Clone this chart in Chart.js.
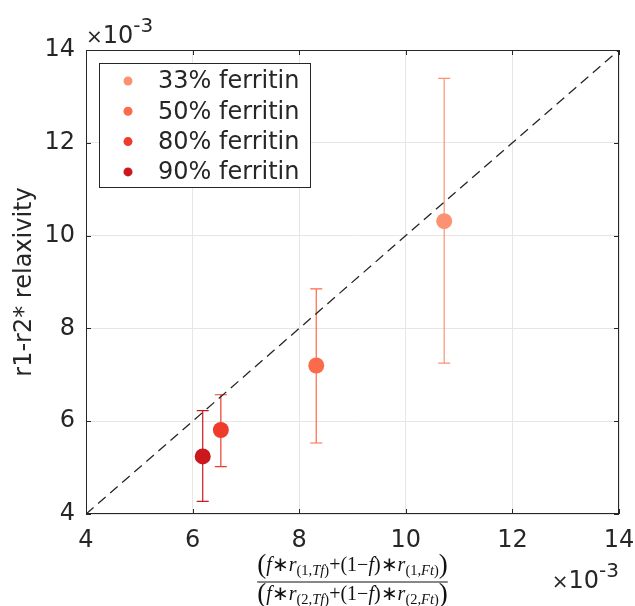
<!DOCTYPE html>
<html>
<head>
<meta charset="utf-8">
<script src="https://cdn.jsdelivr.net/npm/chart.js@4.4.1/dist/chart.umd.min.js"></script>
<style>
  html, body { margin: 0; padding: 0; background: #fff; }
  #wrap { width: 635px; height: 606px; }
</style>
</head>
<body>
<div id="wrap"><canvas id="relax" width="635" height="606"></canvas></div>
<script>
// predicted ratio (x) vs measured r1-r2* relaxivity (y), both in units of 1e-3
const labels = ["33% ferritin", "50% ferritin", "80% ferritin", "90% ferritin"];
const predicted = [10.72, 8.32, 6.53, 6.19];
const measured = [10.31, 7.20, 5.81, 5.24];
const errLow = [7.25, 5.53, 5.02, 4.27];
const errHigh = [13.39, 8.85, 6.57, 6.23];
const colors = ["#fc9272", "#fb6a4a", "#ef3b2c", "#cb181d"];
const axisTicks = [4, 6, 8, 10, 12, 14];
const exponent = "-3";

const ink = "#262626";
const FONT = "DejaVu Sans";
Chart.defaults.font.family = FONT;
Chart.defaults.color = ink;

// vertical error bars with caps, drawn under the markers
const errorBars = {
  id: "errorBars",
  beforeDatasetsDraw(chart) {
    const { ctx, scales: { x, y } } = chart;
    ctx.save();
    ctx.lineWidth = 1.2;
    predicted.forEach((v, i) => {
      const px = x.getPixelForValue(v);
      const top = y.getPixelForValue(errHigh[i]);
      const bot = y.getPixelForValue(errLow[i]);
      ctx.strokeStyle = colors[i];
      ctx.beginPath();
      ctx.moveTo(px, top); ctx.lineTo(px, bot);
      ctx.moveTo(px - 6, top); ctx.lineTo(px + 6, top);
      ctx.moveTo(px - 6, bot); ctx.lineTo(px + 6, bot);
      ctx.stroke();
    });
    ctx.restore();
  }
};

// axes box with inward ticks on all four sides
const axesBox = {
  id: "axesBox",
  afterDatasetsDraw(chart) {
    const { ctx, chartArea: a, scales: { x, y } } = chart;
    ctx.save();
    ctx.strokeStyle = ink;
    ctx.lineWidth = 1;
    ctx.strokeRect(a.left + 0.5, a.top + 0.5, a.right - a.left - 1, a.bottom - a.top - 1);
    ctx.beginPath();
    axisTicks.forEach(t => {
      const px = Math.round(x.getPixelForValue(t)) + 0.5;
      ctx.moveTo(px, a.bottom); ctx.lineTo(px, a.bottom - 5);
      ctx.moveTo(px, a.top); ctx.lineTo(px, a.top + 5);
      const py = Math.round(y.getPixelForValue(t)) + 0.5;
      ctx.moveTo(a.left, py); ctx.lineTo(a.left + 5, py);
      ctx.moveTo(a.right, py); ctx.lineTo(a.right - 5, py);
    });
    ctx.stroke();
    ctx.restore();
  }
};

function drawExp(ctx, x0, base) {
  ctx.textAlign = "left";
  ctx.textBaseline = "alphabetic";
  ctx.font = "20px " + FONT;
  ctx.fillText("\u00d7", x0, base);
  x0 += ctx.measureText("\u00d7").width;
  ctx.font = "24px " + FONT;
  ctx.fillText("10", x0, base);
  x0 += ctx.measureText("10").width;
  ctx.font = "20px " + FONT;
  ctx.fillText(exponent, x0, base - 11);
}

function expWidth(ctx) {
  ctx.font = "20px " + FONT;
  let w = ctx.measureText("\u00d7").width + ctx.measureText(exponent).width;
  ctx.font = "24px " + FONT;
  return w + ctx.measureText("10").width;
}

// one line of the fraction: [text, style] with i = italic, r = roman, s* = subscript, p = big paren
function fracRuns(n) {
  return [["(", "p"], ["f", "i"], ["\u2217", "r"], ["r", "i"], ["(" + n + ",", "sr"], ["Tf", "si"], [")", "sr"],
    ["+(1\u2212", "r"], ["f", "i"], [")\u2217", "r"], ["r", "i"], ["(" + n + ",", "sr"], ["Ft", "si"], [")", "sr"], [")", "p"]];
}
const runFont = {
  i: ["italic 20px 'Liberation Serif'", 0],
  r: ["20px 'Liberation Serif'", 0],
  si: ["italic 14.5px 'Liberation Serif'", 4],
  sr: ["14.5px 'Liberation Serif'", 4],
  p: ["27px 'Liberation Serif'", 2]
};
function drawRuns(ctx, runs, cx, base) {
  let w = 0;
  runs.forEach(([t, s]) => { ctx.font = runFont[s][0]; w += ctx.measureText(t).width; });
  let x0 = cx - w / 2;
  ctx.textAlign = "left";
  ctx.textBaseline = "alphabetic";
  runs.forEach(([t, s]) => {
    ctx.font = runFont[s][0];
    ctx.fillText(t, x0, base + runFont[s][1]);
    x0 += ctx.measureText(t).width;
  });
  return w;
}

// x-axis fraction label, exponent labels and the legend box
const overlay = {
  id: "overlay",
  afterDraw(chart) {
    const { ctx, chartArea: a } = chart;
    ctx.save();
    ctx.fillStyle = ink;
    drawExp(ctx, a.left, a.top - 7);
    drawExp(ctx, a.right - expWidth(ctx), 588);

    const cx = (a.left + a.right) / 2;
    ctx.fillStyle = "#111";
    const w = drawRuns(ctx, fracRuns(1), cx, 571);
    drawRuns(ctx, fracRuns(2), cx, 600);
    ctx.fillRect(cx - w / 2, 581.5, w, 1);

    const bx = a.left + 13, by = a.top + 13, bw = 211, bh = 124;
    ctx.fillStyle = "#fff";
    ctx.fillRect(bx, by, bw, bh);
    ctx.strokeStyle = ink;
    ctx.lineWidth = 1;
    ctx.strokeRect(bx + 0.5, by + 0.5, bw, bh);
    ctx.font = "24px " + FONT;
    ctx.textAlign = "left";
    ctx.textBaseline = "middle";
    labels.forEach((lab, i) => {
      const ry = by + 18 + i * 30.3;
      ctx.fillStyle = colors[i];
      ctx.beginPath();
      ctx.arc(bx + 29, ry, 4.5, 0, Math.PI * 2);
      ctx.fill();
      ctx.fillStyle = ink;
      ctx.fillText(lab, bx + 59, ry + 1);
    });
    ctx.restore();
  }
};

const pointSets = labels.map((lab, i) => ({
  type: "scatter",
  label: lab,
  data: [{ x: predicted[i], y: measured[i] }],
  backgroundColor: colors[i],
  borderWidth: 0,
  pointRadius: 8,
  pointHoverRadius: 8,
  order: 0
}));

const lo = axisTicks[0], hi = axisTicks[axisTicks.length - 1];
const identity = {
  type: "line",
  label: "identity",
  data: [{ x: lo, y: lo }, { x: hi, y: hi }],
  borderColor: ink,
  borderWidth: 1.3,
  borderDash: [10, 6],
  pointRadius: 0,
  fill: false,
  order: 1
};

const fixTicks = s => { s.ticks = axisTicks.map(v => ({ value: v })); };

new Chart(document.getElementById("relax"), {
  type: "scatter",
  data: { datasets: [...pointSets, identity] },
  options: {
    responsive: false,
    animation: false,
    layout: { padding: { left: 0, top: 50, right: 16, bottom: 0 } },
    plugins: { legend: { display: false }, tooltip: { enabled: false } },
    scales: {
      x: {
        type: "linear", min: lo, max: hi,
        afterBuildTicks: fixTicks,
        afterFit: s => { s.height = 92; s.paddingLeft = 0; s.paddingRight = 0; },
        grid: { color: "#e6e6e6", drawTicks: false },
        border: { display: false },
        ticks: { font: { size: 24 }, color: ink, padding: 12 }
      },
      y: {
        type: "linear", min: lo, max: hi,
        afterBuildTicks: fixTicks,
        afterFit: s => { s.width = 86; s.paddingTop = 0; s.paddingBottom = 0; },
        grid: { color: "#e6e6e6", drawTicks: false },
        border: { display: false },
        ticks: { font: { size: 24 }, color: ink, padding: 11 },
        title: { display: true, text: "r1-r2* relaxivity", font: { size: 24 }, color: ink, padding: { top: 10, bottom: 0 } }
      }
    }
  },
  plugins: [errorBars, axesBox, overlay]
});
</script>
</body>
</html>
